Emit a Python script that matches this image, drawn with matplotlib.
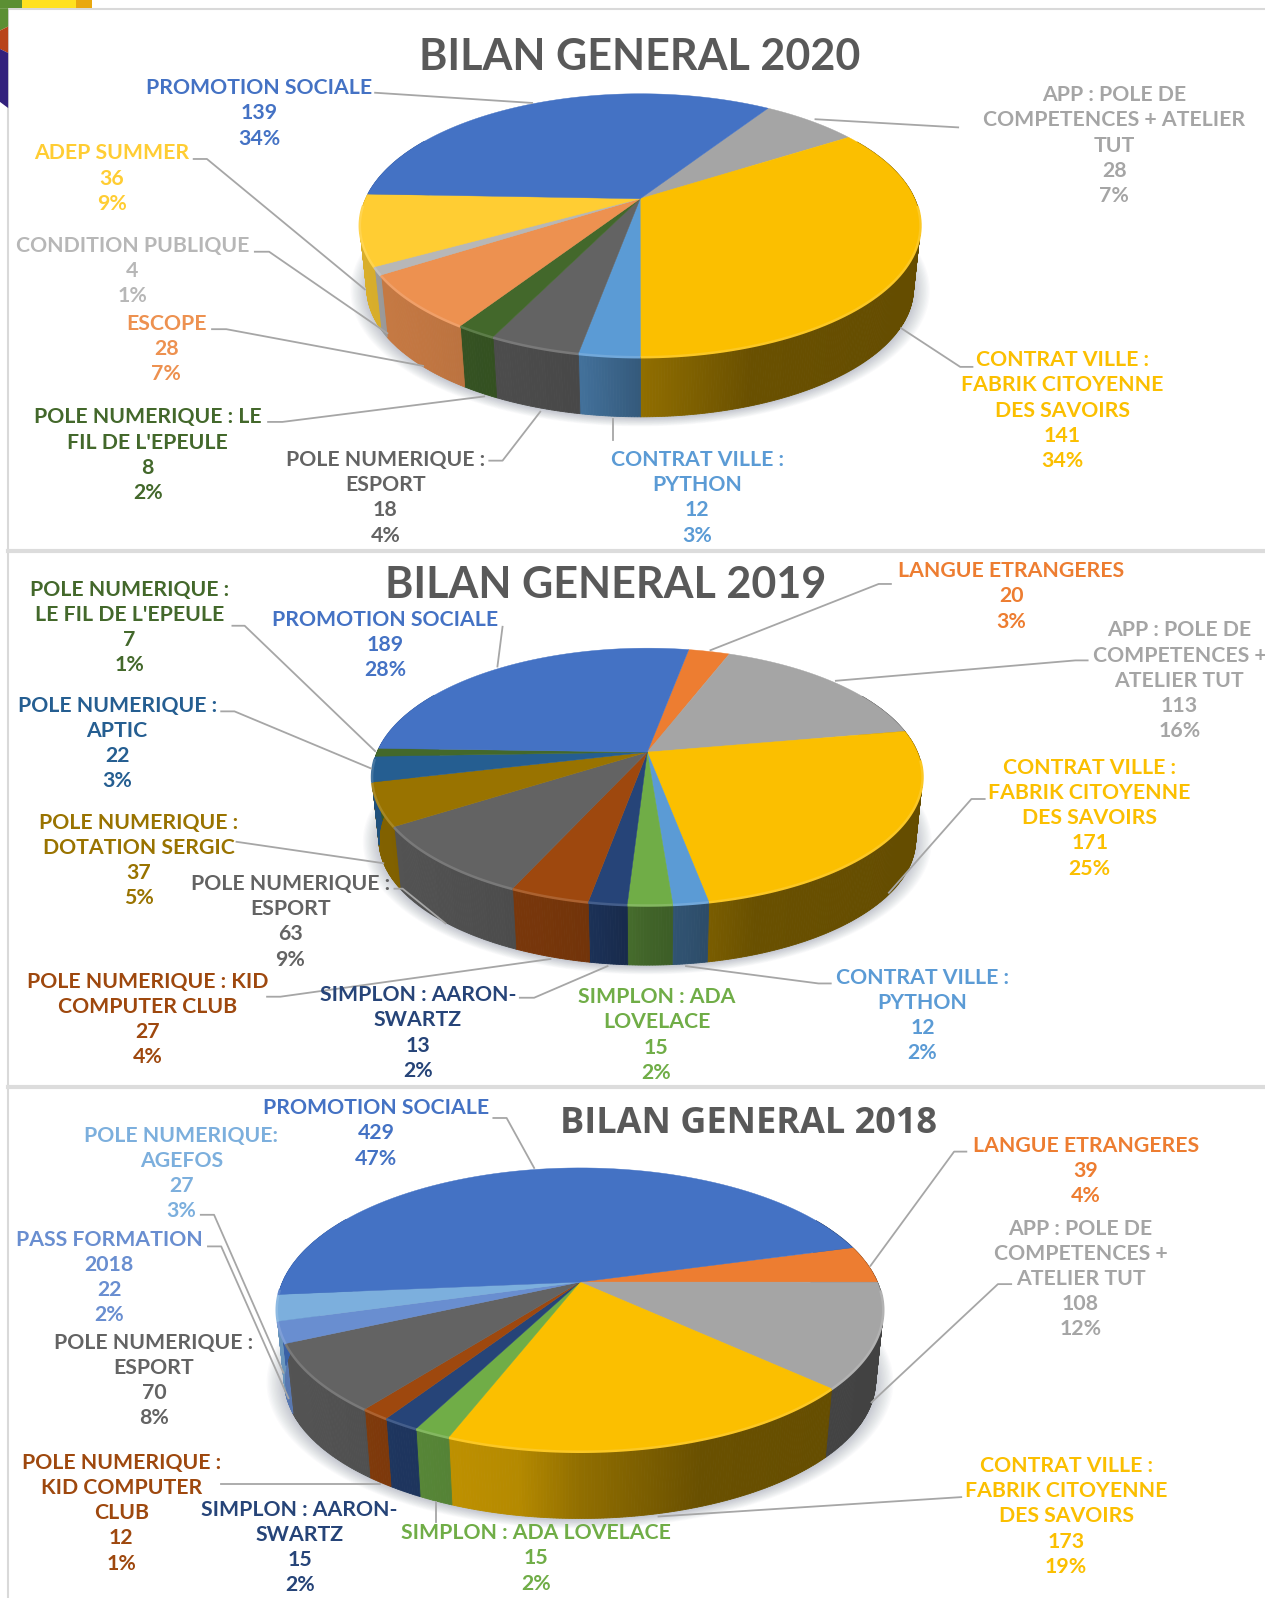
import numpy as np
import matplotlib
matplotlib.use("Agg")
import matplotlib.pyplot as plt

plt.rcParams['font.family'] = ['Lato', 'DejaVu Sans']

# ---- data, clockwise from the first slice ----
names_2020 = ["APP : POLE DE\nCOMPETENCES + ATELIER\nTUT", "CONTRAT VILLE :\nFABRIK CITOYENNE\nDES SAVOIRS",
              "CONTRAT VILLE :\nPYTHON", "POLE NUMERIQUE :\nESPORT", "POLE NUMERIQUE : LE\nFIL DE L'EPEULE",
              "ESCOPE", "CONDITION PUBLIQUE", "ADEP SUMMER", "PROMOTION SOCIALE"]
counts_2020 = [28, 141, 12, 18, 8, 28, 4, 36, 139]
pcts_2020 = [7, 34, 3, 4, 2, 7, 1, 9, 34]

names_2019 = ["LANGUE ETRANGERES", "APP : POLE DE\nCOMPETENCES +\nATELIER TUT",
              "CONTRAT VILLE :\nFABRIK CITOYENNE\nDES SAVOIRS", "CONTRAT VILLE :\nPYTHON",
              "SIMPLON : ADA\nLOVELACE", "SIMPLON : AARON-\nSWARTZ", "POLE NUMERIQUE : KID\nCOMPUTER CLUB",
              "POLE NUMERIQUE :\nESPORT", "POLE NUMERIQUE :\nDOTATION SERGIC", "POLE NUMERIQUE :\nAPTIC",
              "POLE NUMERIQUE :\nLE FIL DE L'EPEULE", "PROMOTION SOCIALE"]
counts_2019 = [20, 113, 171, 12, 15, 13, 27, 63, 37, 22, 7, 189]
pcts_2019 = [3, 16, 25, 2, 2, 2, 4, 9, 5, 3, 1, 28]

names_2018 = ["LANGUE ETRANGERES", "APP : POLE DE\nCOMPETENCES +\nATELIER TUT",
              "CONTRAT VILLE :\nFABRIK CITOYENNE\nDES SAVOIRS", "SIMPLON : ADA LOVELACE",
              "SIMPLON : AARON-\nSWARTZ", "POLE NUMERIQUE :\nKID COMPUTER\nCLUB", "POLE NUMERIQUE :\nESPORT",
              "PASS FORMATION\n2018", "POLE NUMERIQUE:\nAGEFOS", "PROMOTION SOCIALE"]
counts_2018 = [39, 108, 173, 15, 15, 12, 70, 22, 27, 429]
pcts_2018 = [4, 12, 19, 2, 2, 1, 8, 2, 3, 47]

# ---- colours ----
BLUE, GREY, GOLD, SKY = "#4472C4", "#A5A5A5", "#FBBF00", "#5B9BD5"
DGREY, DGREEN, ORANGE, NAVY = "#636363", "#43682B", "#ED7D31", "#264478"
GREEN, RUST, OLIVE, TEAL = "#70AD47", "#9E480E", "#997300", "#255E91"

colors_2020 = [GREY, GOLD, SKY, DGREY, DGREEN, "#ED9150", "#B7B7B7", "#FFCD33", BLUE]
colors_2019 = [ORANGE, GREY, GOLD, SKY, GREEN, NAVY, RUST, DGREY, OLIVE, TEAL, DGREEN, BLUE]
colors_2018 = [ORANGE, GREY, GOLD, GREEN, NAVY, RUST, DGREY, "#698ED0", "#7CAFDD", BLUE]

# ---- label layout: x centre, y of the first line ----
pos_2020 = [(1093, 92), (1042, 352), (684, 450), (378, 450), (145, 408), (163, 316), (130, 240), (110, 149), (254, 85)]
pos_2019 = [(992, 559), (1157, 617), (1069, 752), (905, 958), (644, 977), (410, 975), (145, 962), (285, 866),
            (136, 806), (115, 691), (127, 577), (378, 607)]
pos_2018 = [(1065, 1123), (1060, 1204), (1046, 1437), (526, 1503), (294, 1480), (119, 1434), (151, 1316),
            (107, 1215), (178, 1113), (369, 1086)]

leaders_2020 = [[(800, 117), (940, 125)], [(884, 322), (942, 360), (954, 360)], [(601, 411), (601, 432)],
                [(480, 452), (493, 452), (530, 404)], [(263, 414), (277, 414), (475, 389)],
                [(208, 323), (222, 323), (415, 359)], [(250, 247), (264, 247), (380, 327)],
                [(190, 156), (203, 156), (358, 284)], [(368, 91), (522, 101)]]
leaders_2019 = [[(874, 573), (862, 573), (697, 638)], [(1067, 648), (1055, 648), (820, 668)],
                [(966, 784), (953, 784), (872, 876)], [(815, 965), (803, 965), (673, 948)],
                [(510, 979), (524, 979), (596, 948)], [(262, 978), (275, 978), (540, 941)],
                [(387, 872), (395, 872), (437, 906)], [(232, 826), (376, 847)],
                [(217, 698), (230, 698), (364, 754)], [(228, 614), (240, 614), (368, 737)], [(493, 615), (488, 654)]]
leaders_2018 = [[(948, 1130), (936, 1130), (854, 1242)], [(992, 1260), (979, 1260), (855, 1376)],
                [(943, 1469), (646, 1488)], [(428, 1474), (428, 1493)], [(217, 1456), (373, 1456)],
                [(204, 1223), (217, 1223), (283, 1372)], [(197, 1192), (210, 1192), (278, 1347)],
                [(484, 1097), (497, 1097), (524, 1146)]]


def shade(col, f):
    return tuple(c * f for c in matplotlib.colors.to_rgb(col))


def lighten(col, f):
    return tuple(c + (1 - c) * f for c in matplotlib.colors.to_rgb(col))


def draw_pie(ax, values, colors, start, cx, cy, half_w, up, down, depth, k=0.975):
    """Perspective 3D pie: start is degrees clockwise from the back of the disc."""
    p = (down - up) / (down + up)
    ry = up * (1 + p)
    rx = half_w * np.sqrt(1 - p * p)
    drop = depth + down * (1 - k)  # the lower disc is a bit smaller, farther from the eye

    def project(th):
        u, v = np.sin(th), np.cos(th)
        s = 1 + p * v
        return cx + rx * u / s, cy - ry * v / s

    def lower(x, y):
        return cx + (x - cx) * k, cy + drop + (y - cy) * k

    # soft shadow under the disc
    t = np.radians(np.linspace(0, 360, 241))
    sx, sy = lower(*project(t))
    for g in np.linspace(1.0, 1.06, 14):
        ax.fill(cx + (sx - cx) * g, sy.mean() + (sy - sy.mean()) * g + 1, color="#44506a", alpha=0.022, lw=0, zorder=1)

    edges = np.cumsum([0] + list(values)) / np.sum(values) * 360 + start

    # side walls, narrow strips so the shading can follow x
    for i, col in enumerate(colors):
        th = np.radians(np.arange(edges[i], edges[i + 1] + 0.5, 0.5))
        th[-1] = min(th[-1], np.radians(edges[i + 1]))
        x, y = project(th)
        bx, by = lower(x, y)
        for j in range(len(th) - 1):
            if np.cos(th[j]) > 0.5:
                continue
            xn = (x[j] - cx) / half_w
            f = np.interp(xn, [-1, -0.2, 0.0, 0.4, 1], [0.85, 0.72, 0.58, 0.42, 0.4])
            ax.fill([x[j], x[j + 1], bx[j + 1], bx[j]], [y[j], y[j + 1], by[j + 1], by[j]],
                    color=shade(col, f), lw=0.6, zorder=2)

    # top faces and the bright rim
    for i, col in enumerate(colors):
        th = np.radians(np.linspace(edges[i], edges[i + 1], 80))
        x, y = project(th)
        ax.fill(np.r_[cx, x], np.r_[cy, y], color=col, lw=0.3, zorder=3)
        front = np.cos(th) < -0.05
        if front.any():
            ax.plot(x[front], y[front] + 0.5, color=lighten(col, 0.14), lw=1.8, zorder=4,
                    solid_capstyle='butt')


def draw_labels(ax, names, counts, pcts, colors, positions, leaders, pitch=24.7):
    for name, n, pc, col, (x, y) in zip(names, counts, pcts, colors, positions):
        lines = name.split("\n") + [str(n), "%d%%" % pc]
        for k, line in enumerate(lines):
            ax.text(x, y + 1.5 + k * pitch, line, color=col, ha='center', va='center',
                    fontsize=15.35, fontweight='bold', zorder=6)
    for pts in leaders:
        xs, ys = zip(*pts)
        ax.plot(xs, ys, color="#a6a6a6", lw=1.3, zorder=5)


fig = plt.figure(figsize=(12.65, 15.98), dpi=100)
ax = fig.add_axes([0, 0, 1, 1])
ax.set_xlim(0, 1241)
ax.set_ylim(1568, 0)
ax.axis('off')

# corner decoration of the page behind the charts
ax.fill([0, 22, 22, 0], [0, 0, 8, 8], color="#5b8f33", lw=0)
ax.fill([22, 75, 75, 22], [0, 0, 8, 8], color="#ffe11f", lw=0)
ax.fill([75, 90, 90, 75], [0, 0, 8, 8], color="#e9a80f", lw=0)
ax.fill([0, 8, 8, 0], [8, 8, 26, 30], color="#5b8f33", lw=0)
ax.fill([0, 8, 8, 0], [30, 26, 52, 48], color="#b8441a", lw=0)
ax.fill([0, 8, 8, 0], [48, 52, 106, 100], color="#32217c", lw=0)

# panel frames
ax.plot([8, 8], [9, 1568], color="#d9d9d9", lw=1.5, zorder=0)
ax.plot([8, 1241], [9, 9], color="#d9d9d9", lw=1.5, zorder=0)
ax.plot([8, 1241], [541, 541], color="#dcdcdc", lw=3, zorder=0)
ax.plot([8, 1241], [1067, 1067], color="#dcdcdc", lw=3, zorder=0)

draw_pie(ax, counts_2020, colors_2020, 33, 628, 195, 275, 103, 155, 59)
draw_pie(ax, counts_2019, colors_2019, 10.5, 635, 738, 270, 102, 150, 59)
draw_pie(ax, counts_2018, colors_2018, 74.6, 569, 1258, 297.5, 112, 166, 66)

draw_labels(ax, names_2020, counts_2020, pcts_2020, colors_2020, pos_2020, leaders_2020)
draw_labels(ax, names_2019, counts_2019, pcts_2019, colors_2019, pos_2019, leaders_2019)
draw_labels(ax, names_2018, counts_2018, pcts_2018, colors_2018, pos_2018, leaders_2018)

ax.text(628, 56, "BILAN GENERAL 2020", color="#595959", ha='center', va='center', fontsize=31, fontweight='bold')
ax.text(594, 574, "BILAN GENERAL 2019", color="#595959", ha='center', va='center', fontsize=31, fontweight='bold')
ax.text(734, 1103, "BILAN GENERAL 2018", color="#595959", ha='center', va='center', fontsize=26,
        fontweight='bold', family=['Open Sans', 'DejaVu Sans'])

fig.savefig("out.png", dpi=100)
